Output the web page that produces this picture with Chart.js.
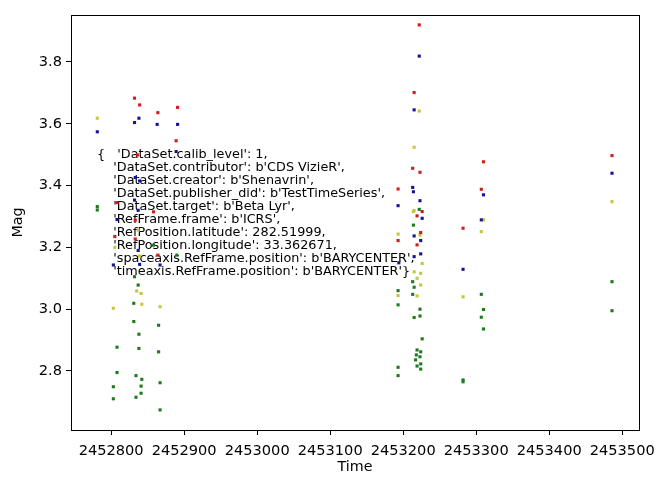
<!DOCTYPE html>
<html>
<head>
<meta charset="utf-8">
<script src="https://cdn.jsdelivr.net/npm/chart.js@4.4.1/dist/chart.umd.min.js"></script>
<style>
  html, body { margin: 0; padding: 0; background: #fff; }
  #wrap { width: 659px; height: 477px; }
</style>
</head>
<body>
<div id="wrap"><canvas id="lc"></canvas></div>
<script>
// light curve points: [time, mag]
const redPts = [
  [2452832, 3.683], [2452839, 3.661], [2452864, 3.636], [2452891, 3.653],
  [2452889, 3.545], [2452836, 3.499], [2452808, 3.345], [2452858, 3.315],
  [2452833, 3.288], [2452805, 3.235], [2452833, 3.227], [2452864, 3.175],
  [2453222, 3.920], [2453215, 3.701], [2453213, 3.456], [2453223, 3.443],
  [2453193, 3.389], [2453226, 3.316], [2453219, 3.302], [2453224, 3.248],
  [2453193, 3.222], [2453219, 3.208],
  [2453310, 3.477], [2453307, 3.388], [2453282, 3.262], [2453486, 3.497]
];
const bluePts = [
  [2452781, 3.574], [2452838, 3.618], [2452832, 3.604], [2452863, 3.598],
  [2452891, 3.598], [2452889, 3.510], [2452833, 3.426], [2452839, 3.415],
  [2452832, 3.353], [2452837, 3.320], [2452808, 3.290], [2452837, 3.190],
  [2452803, 3.143], [2452839, 3.145], [2452867, 3.143],
  [2453222, 3.819], [2453215, 3.645], [2453213, 3.394], [2453214, 3.380],
  [2453193, 3.335], [2453223, 3.351], [2453226, 3.294], [2453215, 3.237],
  [2453224, 3.222], [2453215, 3.170], [2453224, 3.179], [2453194, 3.150],
  [2453310, 3.370], [2453307, 3.289], [2453282, 3.129], [2453486, 3.440]
];
const yellowPts = [
  [2452781, 3.618], [2452837, 3.256], [2452805, 3.200], [2452839, 3.172],
  [2452835, 3.059], [2452841, 3.051], [2452842, 3.016], [2452803, 3.003],
  [2452867, 3.008],
  [2453222, 3.641], [2453215, 3.524], [2453215, 3.319], [2453214, 3.316],
  [2453193, 3.243], [2453223, 3.240], [2453226, 3.148], [2453215, 3.121],
  [2453224, 3.116], [2453219, 3.100], [2453224, 3.078], [2453193, 3.044],
  [2453219, 3.043],
  [2453310, 3.289], [2453307, 3.251], [2453282, 3.040], [2453486, 3.348]
];
const greenPts = [
  [2452781, 3.332], [2452781, 3.321], [2452858, 3.207], [2452890, 3.175],
  [2452832, 3.105], [2452837, 3.078], [2452831, 3.019], [2452831, 2.960],
  [2452865, 2.948], [2452838, 2.919], [2452808, 2.877], [2452838, 2.873],
  [2452865, 2.862], [2452808, 2.795], [2452834, 2.785], [2452842, 2.773],
  [2452803, 2.749], [2452841, 2.751], [2452867, 2.762], [2452841, 2.728],
  [2452834, 2.715], [2452803, 2.710], [2452867, 2.674],
  [2453222, 3.323], [2453214, 3.272], [2453213, 3.089], [2453215, 3.071],
  [2453193, 3.060], [2453213, 3.048], [2453193, 3.014], [2453223, 3.000],
  [2453215, 2.973], [2453223, 2.978], [2453226, 2.904], [2453219, 2.868],
  [2453224, 2.862], [2453218, 2.852], [2453223, 2.846], [2453217, 2.836],
  [2453219, 2.816], [2453224, 2.823], [2453224, 2.806], [2453193, 2.812],
  [2453193, 2.785],
  [2453307, 3.048], [2453310, 2.999], [2453307, 2.974], [2453310, 2.936],
  [2453282, 2.771], [2453282, 2.765], [2453486, 3.089], [2453486, 2.995]
];

const xTicks = [2452800, 2452900, 2453000, 2453100, 2453200, 2453300, 2453400, 2453500];
const yTicks = [2.8, 3.0, 3.2, 3.4, 3.6, 3.8];

const metaLines = [
  "{   'DataSet.calib_level': 1,",
  "    'DataSet.contributor': b'CDS VizieR',",
  "    'DataSet.creator': b'Shenavrin',",
  "    'DataSet.publisher_did': b'TestTimeSeries',",
  "    'DataSet.target': b'Beta Lyr',",
  "    'RefFrame.frame': b'ICRS',",
  "    'RefPosition.latitude': 282.51999,",
  "    'RefPosition.longitude': 33.362671,",
  "    'spaceaxis.RefFrame.position': b'BARYCENTER',",
  "    'timeaxis.RefFrame.position': b'BARYCENTER'}"
];

const FONT = "'DejaVu Sans', sans-serif";

function toXY(arr) {
  return arr.map(p => ({ x: p[0], y: p[1] }));
}

function series(label, pts, color) {
  return {
    label: label,
    data: toXY(pts),
    backgroundColor: color,
    borderWidth: 0,
    pointStyle: 'rect',
    pointRadius: 2.2,
    pointHoverRadius: 2.2
  };
}

// annotation text + top/right spines
const extras = {
  id: 'extras',
  beforeDatasetsDraw(chart) {
    const ctx = chart.ctx;
    ctx.save();
    ctx.fillStyle = '#000';
    ctx.font = "12.8px " + FONT;
    ctx.textBaseline = 'middle';
    ctx.textAlign = 'left';
    metaLines.forEach((t, i) => {
      ctx.fillText(t, 97, 155 + i * 12.96);
    });
    ctx.restore();
  },
  afterDraw(chart) {
    const a = chart.chartArea;
    const ctx = chart.ctx;
    ctx.save();
    ctx.strokeStyle = '#000';
    ctx.lineWidth = 1;
    ctx.strokeRect(Math.round(a.left) + 0.5, Math.round(a.top) + 0.5,
      Math.round(a.right - a.left), Math.round(a.bottom - a.top));
    ctx.restore();
  }
};

new Chart(document.getElementById('lc'), {
  type: 'scatter',
  plugins: [extras],
  data: {
    datasets: [
      series('r', redPts, '#d01c1c'),
      series('b', bluePts, '#14149a'),
      series('y', yellowPts, '#c6c63a'),
      series('g', greenPts, '#1d7a1d')
    ]
  },
  options: {
    responsive: true,
    maintainAspectRatio: false,
    animation: false,
    events: [],
    layout: { padding: { left: 0, top: 15, right: 20, bottom: 0 } },
    plugins: { legend: { display: false }, tooltip: { enabled: false } },
    scales: {
      x: {
        type: 'linear',
        min: 2452745,
        max: 2453523,
        afterBuildTicks: s => { s.ticks = xTicks.map(v => ({ value: v })); },
        afterFit: s => { s.height = 47; s.paddingLeft = 0; s.paddingRight = 0; },
        grid: { drawOnChartArea: false, drawTicks: true, tickLength: 5, color: '#000' },
        border: { display: true, color: '#000', width: 1 },
        ticks: {
          color: '#000', padding: 7, maxRotation: 0, autoSkip: false,
          font: { family: FONT, size: 14.6 },
          callback: v => String(v)
        },
        title: {
          display: true, text: 'Time', color: '#000',
          font: { family: FONT, size: 14.3 }, padding: { top: 0, bottom: 1 }
        }
      },
      y: {
        type: 'linear',
        min: 2.609,
        max: 3.952,
        afterBuildTicks: s => { s.ticks = yTicks.map(v => ({ value: v })); },
        afterFit: s => { s.width = 71; },
        grid: { drawOnChartArea: false, drawTicks: true, tickLength: 5, color: '#000' },
        border: { display: true, color: '#000', width: 1 },
        ticks: {
          color: '#000', padding: 4,
          font: { family: FONT, size: 14.6 },
          callback: v => v.toFixed(1)
        },
        title: {
          display: true, text: 'Mag', color: '#000',
          font: { family: FONT, size: 14.3 }, padding: { top: 10, bottom: 4 }
        }
      }
    }
  }
});
</script>
</body>
</html>
